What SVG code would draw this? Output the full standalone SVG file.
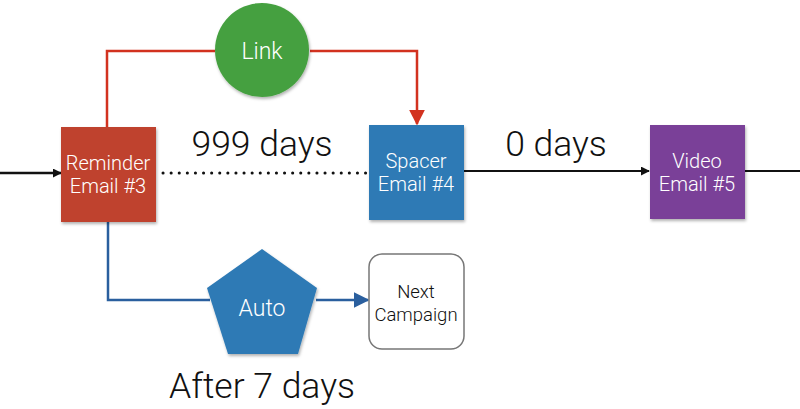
<svg xmlns="http://www.w3.org/2000/svg" width="800" height="409" viewBox="0 0 800 409">
<style>
text{font-family:Roboto,"Liberation Sans",sans-serif;font-weight:300;text-anchor:middle}
.w{fill:#fff;font-size:20px}
.big{fill:#111;font-size:35.5px}
.conn{fill:none;stroke-width:2.5}
</style>
<defs>
<filter id="sh" x="-10%" y="-10%" width="130%" height="130%"><feDropShadow dx="1" dy="2" stdDeviation="1.5" flood-color="#000" flood-opacity="0.3"/></filter>
<marker id="ab" viewBox="0 0 10 10" refX="9" refY="5" markerWidth="9" markerHeight="9" markerUnits="userSpaceOnUse" orient="auto"><path d="M0,0L10,5L0,10z" fill="#111"/></marker>
<marker id="ar" viewBox="0 0 10 10" refX="9" refY="5" markerWidth="16" markerHeight="16" markerUnits="userSpaceOnUse" orient="auto"><path d="M0,0L10,5L0,10z" fill="#d2321f"/></marker>
<marker id="abl" viewBox="0 0 10 10" refX="9" refY="5" markerWidth="16" markerHeight="16" markerUnits="userSpaceOnUse" orient="auto"><path d="M0,0L10,5L0,10z" fill="#2a5f9e"/></marker>
</defs>
<g id="connectors">
<path class="conn" d="M0,173H61" stroke="#111" stroke-width="2" marker-end="url(#ab)"/>
<path class="conn" d="M107,127V51H215M310,51H417V124" stroke="#d2321f" marker-end="url(#ar)"/>
<path class="conn" d="M108,222V300H210M316,300H368" stroke="#2a5f9e" marker-end="url(#abl)"/>
<path d="M163,173H366" stroke="#111" stroke-width="3" stroke-dasharray="0.1 8" stroke-linecap="round" fill="none"/>
<path d="M464,171H649" stroke="#111" stroke-width="2" fill="none" marker-end="url(#ab)"/>
<path d="M745,171H800" stroke="#111" stroke-width="2" fill="none"/>
</g>
<g id="reminder">
<rect x="61" y="127" width="95" height="95" fill="#bf432f" filter="url(#sh)"/>
<text class="w" x="108" y="170">Reminder</text>
<text class="w" x="108" y="193">Email #3</text>
</g>
<g id="link">
<circle cx="262" cy="50" r="47" fill="#45a03f" filter="url(#sh)"/>
<text class="w" x="262" y="59" style="font-size:23px">Link</text>
</g>
<g id="spacer">
<rect x="369" y="125" width="95" height="95" fill="#2f7ab5" filter="url(#sh)"/>
<text class="w" x="416" y="168">Spacer</text>
<text class="w" x="416" y="191">Email #4</text>
</g>
<g id="video">
<rect x="650" y="125" width="95" height="94" fill="#7a3f98" filter="url(#sh)"/>
<text class="w" x="697" y="168">Video</text>
<text class="w" x="697" y="191">Email #5</text>
</g>
<g id="auto">
<polygon points="262,249 317,288 298,354 228,354 207,288" fill="#2f7ab5" filter="url(#sh)"/>
<text class="w" x="262" y="316" style="font-size:23px">Auto</text>
</g>
<g id="next">
<rect x="369" y="254" width="95" height="95" rx="13" fill="#fff" stroke="#777" stroke-width="1.5"/>
<text x="416" y="298" style="font-size:18.5px;fill:#111">Next</text>
<text x="416" y="321" style="font-size:18.5px;fill:#111">Campaign</text>
</g>
<text class="big" x="262" y="156">999 days</text>
<text class="big" x="556" y="156">0 days</text>
<text class="big" x="262" y="398">After 7 days</text>
</svg>
